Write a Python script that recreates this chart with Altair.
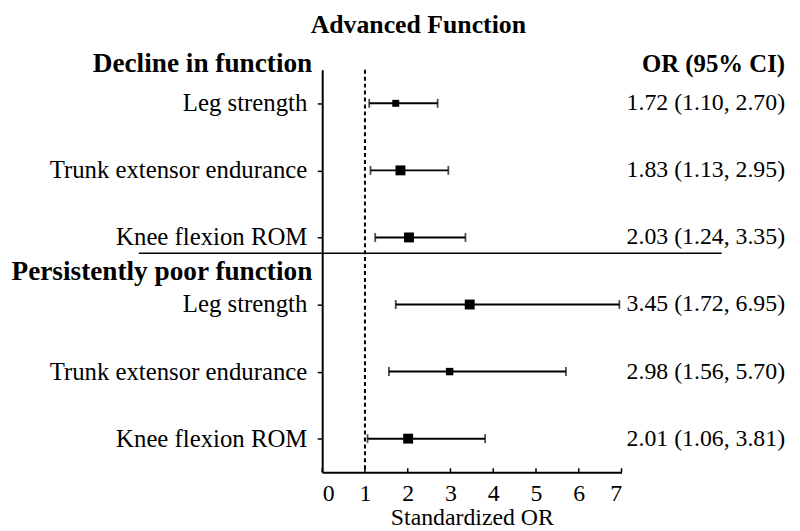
import altair as alt
import pandas as pd

# ---- data ----
groups = ["Decline in function", "Persistently poor function"]
measures = ["Leg strength", "Trunk extensor endurance", "Knee flexion ROM",
            "Leg strength", "Trunk extensor endurance", "Knee flexion ROM"]
odds_ratio = [1.72, 1.83, 2.03, 3.45, 2.98, 2.01]
ci_low = [1.10, 1.13, 1.24, 1.72, 1.56, 1.06]
ci_high = [2.70, 2.95, 3.35, 6.95, 5.70, 3.81]
weight = [49, 100, 100, 100, 56, 100]  # marker area (px^2), as drawn
x_ticks = [0, 1, 2, 3, 4, 5, 6, 7]
null_value = 1

rows = list(range(1, len(measures) + 1))
df = pd.DataFrame({
    "row": rows,
    "measure": measures,
    "or": odds_ratio,
    "lo": ci_low,
    "hi": ci_high,
    "w": weight,
    "txt": [f"{o:.2f} ({l:.2f}, {h:.2f})" for o, l, h in zip(odds_ratio, ci_low, ci_high)],
})

FONT = "Liberation Serif"
BLACK = "#000000"
H = 406

xs = alt.Scale(domain=[0, 7], nice=False, zero=False, padding=0)
ys = alt.Scale(domain=[0.5, 6.5], reverse=True, nice=False, zero=False, padding=0)

base = alt.Chart(df)

x_axis = alt.Axis(values=x_ticks, grid=False, domainColor=BLACK, domainWidth=2,
                  tickSize=0, labelFont=FONT, labelFontSize=24, labelColor=BLACK,
                  labelPadding=10, title="Standardized OR", titleFont=FONT,
                  titleFontSize=24, titleFontWeight="normal", titleColor=BLACK,
                  titlePadding=0)
y_axis = alt.Axis(values=rows, grid=False, labels=False, title=None,
                  domainColor=BLACK, domainWidth=2, tickColor=BLACK,
                  tickSize=5, tickWidth=1.5)

ci = base.mark_rule(color=BLACK, strokeWidth=2).encode(
    x=alt.X("lo:Q", scale=xs, axis=x_axis),
    x2="hi:Q",
    y=alt.Y("row:Q", scale=ys, axis=y_axis),
)
cap_lo = base.mark_tick(color=BLACK, orient="vertical", size=9, thickness=1.8).encode(
    x=alt.X("lo:Q", scale=xs), y=alt.Y("row:Q", scale=ys))
cap_hi = base.mark_tick(color=BLACK, orient="vertical", size=9, thickness=1.8).encode(
    x=alt.X("hi:Q", scale=xs), y=alt.Y("row:Q", scale=ys))
pts = base.mark_square(color=BLACK, opacity=1, filled=True).encode(
    x=alt.X("or:Q", scale=xs), y=alt.Y("row:Q", scale=ys),
    size=alt.Size("w:Q", scale=None, legend=None))

ref = alt.Chart(pd.DataFrame({"v": [null_value]})).mark_rule(
    color=BLACK, strokeWidth=2, strokeDash=[4, 3]).encode(x=alt.X("v:Q", scale=xs))

xt = alt.Chart(pd.DataFrame({"t": x_ticks})).mark_rule(color=BLACK, strokeWidth=1.5).encode(
    x=alt.X("t:Q", scale=xs), y=alt.value(H - 4), y2=alt.value(H))

sep = alt.Chart(pd.DataFrame({"a": [0]})).mark_rule(color=BLACK, strokeWidth=1.5).encode(
    x=alt.value(-185), x2=alt.value(403), y=alt.value(185))

row_lbl = base.mark_text(align="right", baseline="middle", font=FONT, fontSize=25,
                         color=BLACK).encode(
    x=alt.value(-15), y=alt.Y("row:Q", scale=ys), text="measure:N")
or_lbl = base.mark_text(align="right", baseline="middle", font=FONT, fontSize=24,
                        color=BLACK).encode(
    x=alt.value(467), y=alt.Y("row:Q", scale=ys), text="txt:N")

hdr = alt.Chart(pd.DataFrame({"g": groups, "yy": [-6, 204]})).mark_text(
    align="right", baseline="middle", font=FONT, fontSize=27.5, fontWeight="bold",
    color=BLACK).encode(x=alt.value(-10), y=alt.Y("yy:Q", scale=None), text="g:N")

or_hdr = alt.Chart(pd.DataFrame({"t": ["OR (95% CI)"]})).mark_text(
    align="right", baseline="middle", font=FONT, fontSize=25, fontWeight="bold",
    color=BLACK).encode(x=alt.value(467), y=alt.value(-6), text="t:N")

ttl = alt.Chart(pd.DataFrame({"t": ["Advanced Function"]})).mark_text(
    align="center", baseline="alphabetic", font=FONT, fontSize=26, fontWeight="bold",
    color=BLACK).encode(x=alt.value(97), y=alt.value(-37), text="t:N")

chart = alt.layer(ci, cap_lo, cap_hi, ref, xt, sep, pts, row_lbl, or_lbl, hdr, or_hdr, ttl).properties(
    width=302, height=H,
    autosize=alt.AutoSizeParams(type="none"),
    padding={"left": 317, "top": 60, "right": 172, "bottom": 55},
).configure_view(stroke=None)

chart.save("out.html", embed_options={"renderer": "svg", "actions": False})
